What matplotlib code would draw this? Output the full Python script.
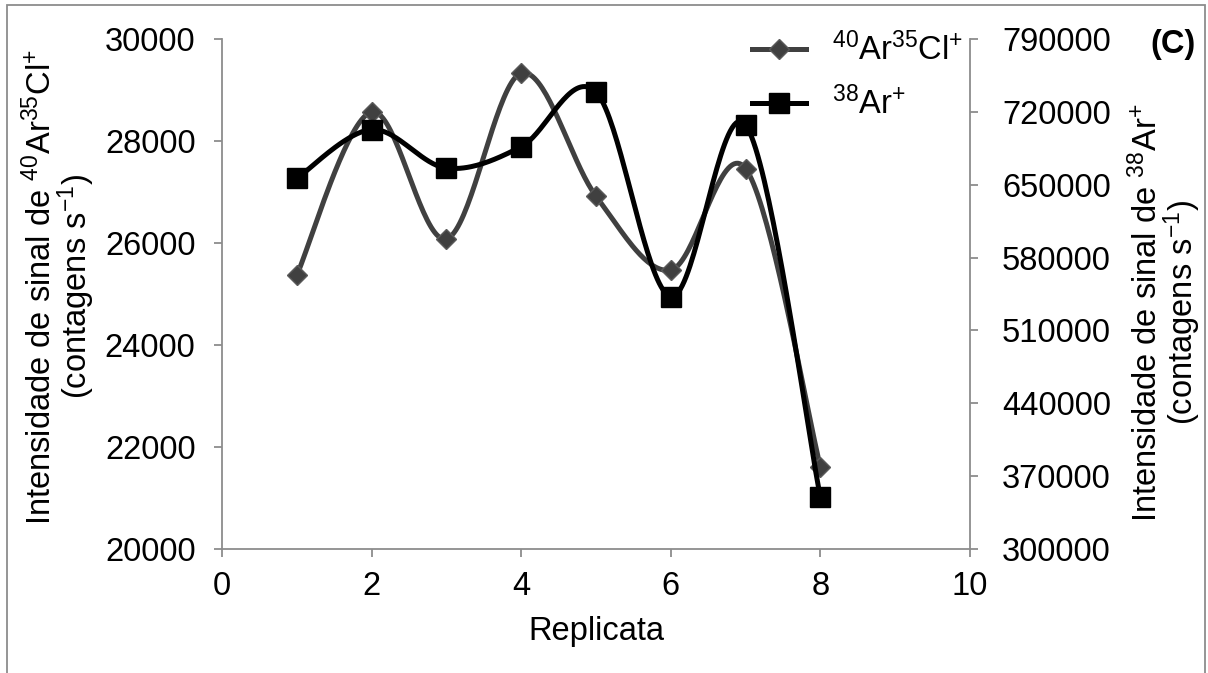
import numpy as np
import matplotlib
matplotlib.use("Agg")
import matplotlib.pyplot as plt
from matplotlib.patches import Rectangle
from matplotlib.lines import Line2D

plt.rcParams["font.family"] = ["Liberation Sans", "DejaVu Sans"]
plt.rcParams["mathtext.fontset"] = "custom"
plt.rcParams["mathtext.rm"] = "Liberation Sans"
plt.rcParams["mathtext.it"] = "Liberation Sans:italic"
plt.rcParams["mathtext.bf"] = "Liberation Sans:bold"

# data
replicata = [1, 2, 3, 4, 5, 6, 7, 8]
arcl = [25370, 28570, 26080, 29330, 26920, 25470, 27460, 21610]     # 40Ar35Cl+ (left axis)
ar38 = [656000, 703000, 666000, 686500, 739000, 542500, 707500, 349500]  # 38Ar+ (right axis)

xticks = [0, 2, 4, 6, 8, 10]
yticks_left = [20000, 22000, 24000, 26000, 28000, 30000]
yticks_right = [300000, 370000, 440000, 510000, 580000, 650000, 720000, 790000]


def smooth(x, y, n=40):
    # Excel-like smoothed line (cubic bezier, catmull-rom control points)
    P = np.column_stack([x, y]).astype(float)
    out = []
    t = np.linspace(0, 1, n)[:, None]
    for i in range(len(P) - 1):
        p0 = P[i - 1] if i > 0 else P[i]
        p1, p2 = P[i], P[i + 1]
        p3 = P[i + 2] if i + 2 < len(P) else P[i + 1]
        c1 = p1 + (p2 - p0) / 6
        c2 = p2 - (p3 - p1) / 6
        seg = ((1 - t) ** 3) * p1 + 3 * ((1 - t) ** 2) * t * c1 + 3 * (1 - t) * t ** 2 * c2 + t ** 3 * p2
        out.append(seg if i == 0 else seg[1:])
    s = np.vstack(out)
    return s[:, 0], s[:, 1]


W, H = 1208, 673
fig = plt.figure(figsize=(W / 100, H / 100), dpi=100)
ax = fig.add_axes([222 / W, 1 - 549 / H, (970 - 222) / W, (549 - 39) / H])
ax2 = ax.twinx()

fs = 23.5
grey = "#404040"
spine_c = "#8c8c8c"

sx, sy = smooth(replicata, arcl)
ax.plot(sx, sy, color=grey, lw=3.6, solid_capstyle="round", zorder=2)
ax.plot(replicata, arcl, ls="none", marker="D", ms=9.8, color=grey,
        mec="#5a5a5a", mew=1.0, zorder=3)

sx2, sy2 = smooth(replicata, ar38)
ax2.plot(sx2, sy2, color="black", lw=3.6, solid_capstyle="round", zorder=2)
ax2.plot(replicata, ar38, ls="none", marker="s", ms=13.8, color="black", zorder=3)

ax.set_xlim(0, 10)
ax.set_ylim(20000, 30000)
ax2.set_ylim(300000, 790000)
ax.set_xticks(xticks)
ax.set_yticks(yticks_left)
ax2.set_yticks(yticks_right)

for a in (ax, ax2):
    a.spines["top"].set_visible(False)
    for s in ("left", "right", "bottom"):
        a.spines[s].set_color(spine_c)
        a.spines[s].set_linewidth(1.3)
    a.tick_params(colors=spine_c, labelcolor="black", labelsize=fs,
                  width=1.3, length=6, direction="out")
ax.tick_params(axis="y", pad=13)
ax.tick_params(axis="x", pad=10)
ax2.tick_params(axis="y", pad=17)
ax.spines["right"].set_visible(False)
ax2.spines["left"].set_visible(False)
ax2.spines["bottom"].set_visible(False)

ax.set_xlabel("Replicata", fontsize=fs, labelpad=10)

fig.text(60 / W, 1 - 287 / H,
         "Intensidade de sinal de $^{40}$Ar$^{35}$Cl$^{+}$\n(contagens s$^{-1}$)",
         fontsize=fs, rotation=90, ha="center", va="center",
         multialignment="center", linespacing=0.93)
fig.text(1166 / W, 1 - 313 / H,
         "Intensidade de sinal de $^{38}$Ar$^{+}$\n(contagens s$^{-1}$)",
         fontsize=fs, rotation=90, ha="center", va="center",
         multialignment="center", linespacing=0.93)

# legend
h1 = Line2D([], [], color=grey, lw=3.6, marker="D", ms=9.8, mec="#5a5a5a")
h2 = Line2D([], [], color="black", lw=3.6, marker="s", ms=13.8)
ax2.legend([h1, h2], ["$^{40}$Ar$^{35}$Cl$^{+}$", "$^{38}$Ar$^{+}$"],
           loc="upper left", bbox_to_anchor=(752 / W, 1 - 33 / H),
           bbox_transform=fig.transFigure, frameon=False, fontsize=fs,
           handlelength=1.65, handletextpad=0.8, borderpad=0, borderaxespad=0,
           labelspacing=0.6)

fig.text(1150 / W, 1 - 45 / H, "(C)", fontsize=fs, fontweight="bold",
         ha="left", va="center")

fig.patches.append(Rectangle((7 / W, -0.01), (1205 - 7) / W, 1.01 - 5 / H,
                             transform=fig.transFigure, fill=False,
                             edgecolor="#8c8c8c", lw=1.3))

fig.savefig("out.png", dpi=100)
